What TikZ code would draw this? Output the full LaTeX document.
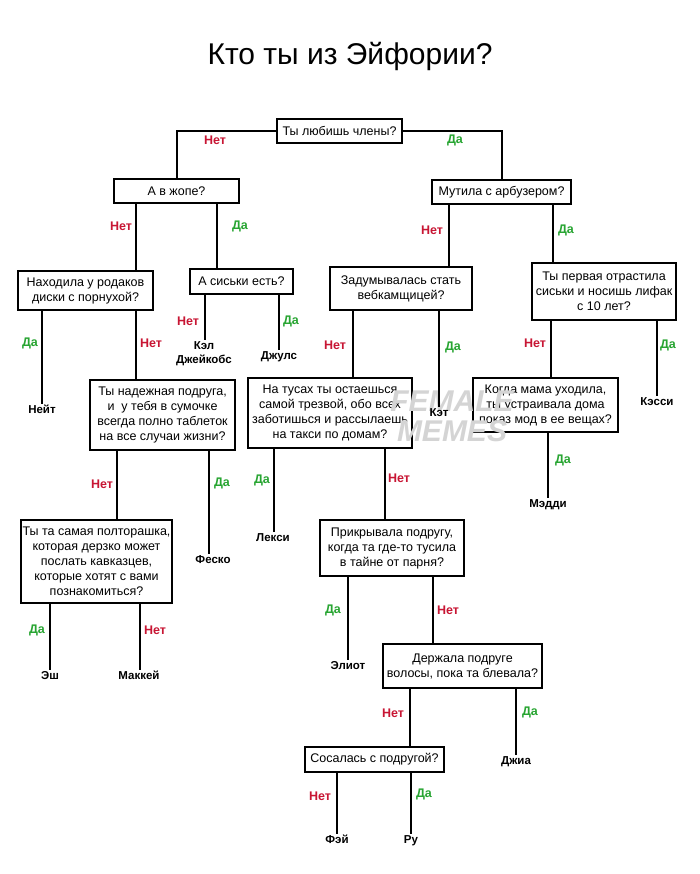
\documentclass[tikz,border=0pt]{standalone}
\usepackage{fontspec}
\setmainfont{Liberation Sans}
\definecolor{nored}{RGB}{200,22,52}
\definecolor{yesgreen}{RGB}{40,165,50}
\begin{document}
\begin{tikzpicture}[x=1pt,y=-1pt,
  box/.style={draw, line width=1.3pt, fill=white, align=center, inner sep=0pt,
    font=\fontsize{12.5}{15}\selectfont},
  conn/.style={line width=2pt},
  no/.style={text=nored, font=\fontsize{12.5}{15}\selectfont\bfseries},
  yes/.style={text=yesgreen, font=\fontsize{12.5}{15}\selectfont\bfseries},
  person/.style={font=\fontsize{11.5}{14}\selectfont\bfseries, align=center, inner sep=1pt},
  wmark/.style={text=black!17, font=\fontsize{30}{30}\selectfont\bfseries\itshape}
]
\useasboundingbox (0,0) rectangle (700,874);
\fill[white] (0,0) rectangle (700,874);

\node[font=\fontsize{30}{33}\selectfont] (title) at (350,56) {Кто ты из Эйфории?};

% question boxes
\node[box, minimum width=125pt, minimum height=24pt] (q1) at (339.5,131) {Ты любишь члены?};
\node[box, minimum width=125pt, minimum height=24pt] (azh) at (176.5,191) {А в жопе?};
\node[box, minimum width=139pt, minimum height=24pt] (mut) at (501.5,192) {Мутила с арбузером?};
\node[box, minimum width=135pt, minimum height=39pt] (nah) at (85.5,290.5) {Находила у родаков\\диски с порнухой?};
\node[box, minimum width=103pt, minimum height=25pt] (sis) at (241.5,281.5) {А сиськи есть?};
\node[box, minimum width=142pt, minimum height=43pt] (zad) at (401,288.5) {Задумывалась стать\\вебкамщицей?};
\node[box, minimum width=144pt, minimum height=57pt] (perv) at (604,291.5) {Ты первая отрастила\\сиськи и носишь лифак\\с 10 лет?};
\node[box, minimum width=145pt, minimum height=70pt] (nad) at (162.5,415) {Ты надежная подруга,\\и \ у тебя в сумочке\\всегда полно таблеток\\на все случаи жизни?};
\node[box, minimum width=164pt, minimum height=70pt] (tus) at (330,413) {На тусах ты остаешься\\самой трезвой, обо всех\\заботишься и рассылаешь\\на такси по домам?};
\node[box, minimum width=145pt, minimum height=54pt] (mama) at (545.5,405) {Когда мама уходила,\\ты устраивала дома\\показ мод в ее вещах?};

% watermark
\node[wmark] (wm1) at (452,401) {FEMALE};
\node[wmark] (wm2) at (452,431) {MEMES};

\node[box, minimum width=151pt, minimum height=83pt] (pol) at (96.5,561.5) {Ты та самая полторашка,\\которая дерзко может\\послать кавказцев,\\которые хотят с вами\\познакомиться?};
\node[box, minimum width=144pt, minimum height=56pt] (prik) at (392,548) {Прикрывала подругу,\\когда та где-то тусила\\в тайне от парня?};
\node[box, minimum width=159pt, minimum height=44pt] (derzh) at (462.5,666) {Держала подруге\\волосы, пока та блевала?};
\node[box, minimum width=139pt, minimum height=25pt] (sos) at (374.5,759.5) {Сосалась с подругой?};

% people
\node[person, anchor=north] (nate) at (42,404) {Нейт};
\node[person, anchor=north] (cal) at (204,340) {Кэл\\Джейкобс};
\node[person, anchor=north] (jules) at (279,350) {Джулс};
\node[person, anchor=north] (kat) at (439,407) {Кэт};
\node[person, anchor=north] (cassie) at (657,396) {Кэсси};
\node[person, anchor=north] (fezco) at (213,554) {Феско};
\node[person, anchor=north] (lexi) at (273,532) {Лекси};
\node[person, anchor=north] (maddy) at (548,498) {Мэдди};
\node[person, anchor=north] (ash) at (50,670) {Эш};
\node[person, anchor=north] (mckay) at (139,670) {Маккей};
\node[person, anchor=north] (elliot) at (348,660) {Элиот};
\node[person, anchor=north] (gia) at (516,755) {Джиа};
\node[person, anchor=north] (faye) at (337,834) {Фэй};
\node[person, anchor=north] (rue) at (411,834) {Ру};

% connectors
\draw[conn] (q1.west) -| (azh.north);
\draw[conn] (q1.east) -| (mut.north);
\draw[conn] (azh.south -| 136,0) -- (nah.north -| 136,0);
\draw[conn] (azh.south -| 217,0) -- (sis.north -| 217,0);
\draw[conn] (mut.south -| 449,0) -- (zad.north -| 449,0);
\draw[conn] (mut.south -| 553,0) -- (perv.north -| 553,0);
\draw[conn] (nah.south -| nate) -- (nate.north);
\draw[conn] (nah.south -| 136,0) -- (nad.north -| 136,0);
\draw[conn] (sis.south -| 205,0) -- (cal.north -| 205,0);
\draw[conn] (sis.south -| jules) -- (jules.north);
\draw[conn] (zad.south -| 353,0) -- (tus.north -| 353,0);
\draw[conn] (zad.south -| kat) -- (kat.north);
\draw[conn] (perv.south -| 551,0) -- (mama.north -| 551,0);
\draw[conn] (perv.south -| cassie) -- (cassie.north);
\draw[conn] (nad.south -| 117,0) -- (pol.north -| 117,0);
\draw[conn] (nad.south -| 209,0) -- (fezco.north -| 209,0);
\draw[conn] (tus.south -| 274,0) -- (lexi.north -| 274,0);
\draw[conn] (tus.south -| 385,0) -- (prik.north -| 385,0);
\draw[conn] (mama.south -| maddy) -- (maddy.north);
\draw[conn] (pol.south -| ash) -- (ash.north);
\draw[conn] (pol.south -| 140,0) -- (mckay.north -| 140,0);
\draw[conn] (prik.south -| elliot) -- (elliot.north);
\draw[conn] (prik.south -| 433,0) -- (derzh.north -| 433,0);
\draw[conn] (derzh.south -| 410,0) -- (sos.north -| 410,0);
\draw[conn] (derzh.south -| gia) -- (gia.north);
\draw[conn] (sos.south -| faye) -- (faye.north);
\draw[conn] (sos.south -| rue) -- (rue.north);

% labels
\node[no] (l1) at (215,140) {Нет};
\node[yes] (l2) at (455,140) {Да};
\node[no] (l3) at (121,226) {Нет};
\node[yes] (l4) at (240,226) {Да};
\node[no] (l5) at (432,230) {Нет};
\node[yes] (l6) at (566,230) {Да};
\node[yes] (l7) at (30,343) {Да};
\node[no] (l8) at (151,343) {Нет};
\node[no] (l9) at (188,321) {Нет};
\node[yes] (l10) at (291,321) {Да};
\node[no] (l11) at (335,345) {Нет};
\node[yes] (l12) at (453,347) {Да};
\node[no] (l13) at (535,343) {Нет};
\node[yes] (l14) at (668,345) {Да};
\node[no] (l15) at (102,484) {Нет};
\node[yes] (l16) at (222,483) {Да};
\node[yes] (l17) at (262,480) {Да};
\node[no] (l18) at (399,478) {Нет};
\node[yes] (l19) at (563,460) {Да};
\node[yes] (l20) at (37,630) {Да};
\node[no] (l21) at (155,630) {Нет};
\node[yes] (l22) at (333,610) {Да};
\node[no] (l23) at (448,610) {Нет};
\node[no] (l24) at (393,713) {Нет};
\node[yes] (l25) at (530,712) {Да};
\node[no] (l26) at (320,796) {Нет};
\node[yes] (l27) at (424,794) {Да};
\end{tikzpicture}
\end{document}
